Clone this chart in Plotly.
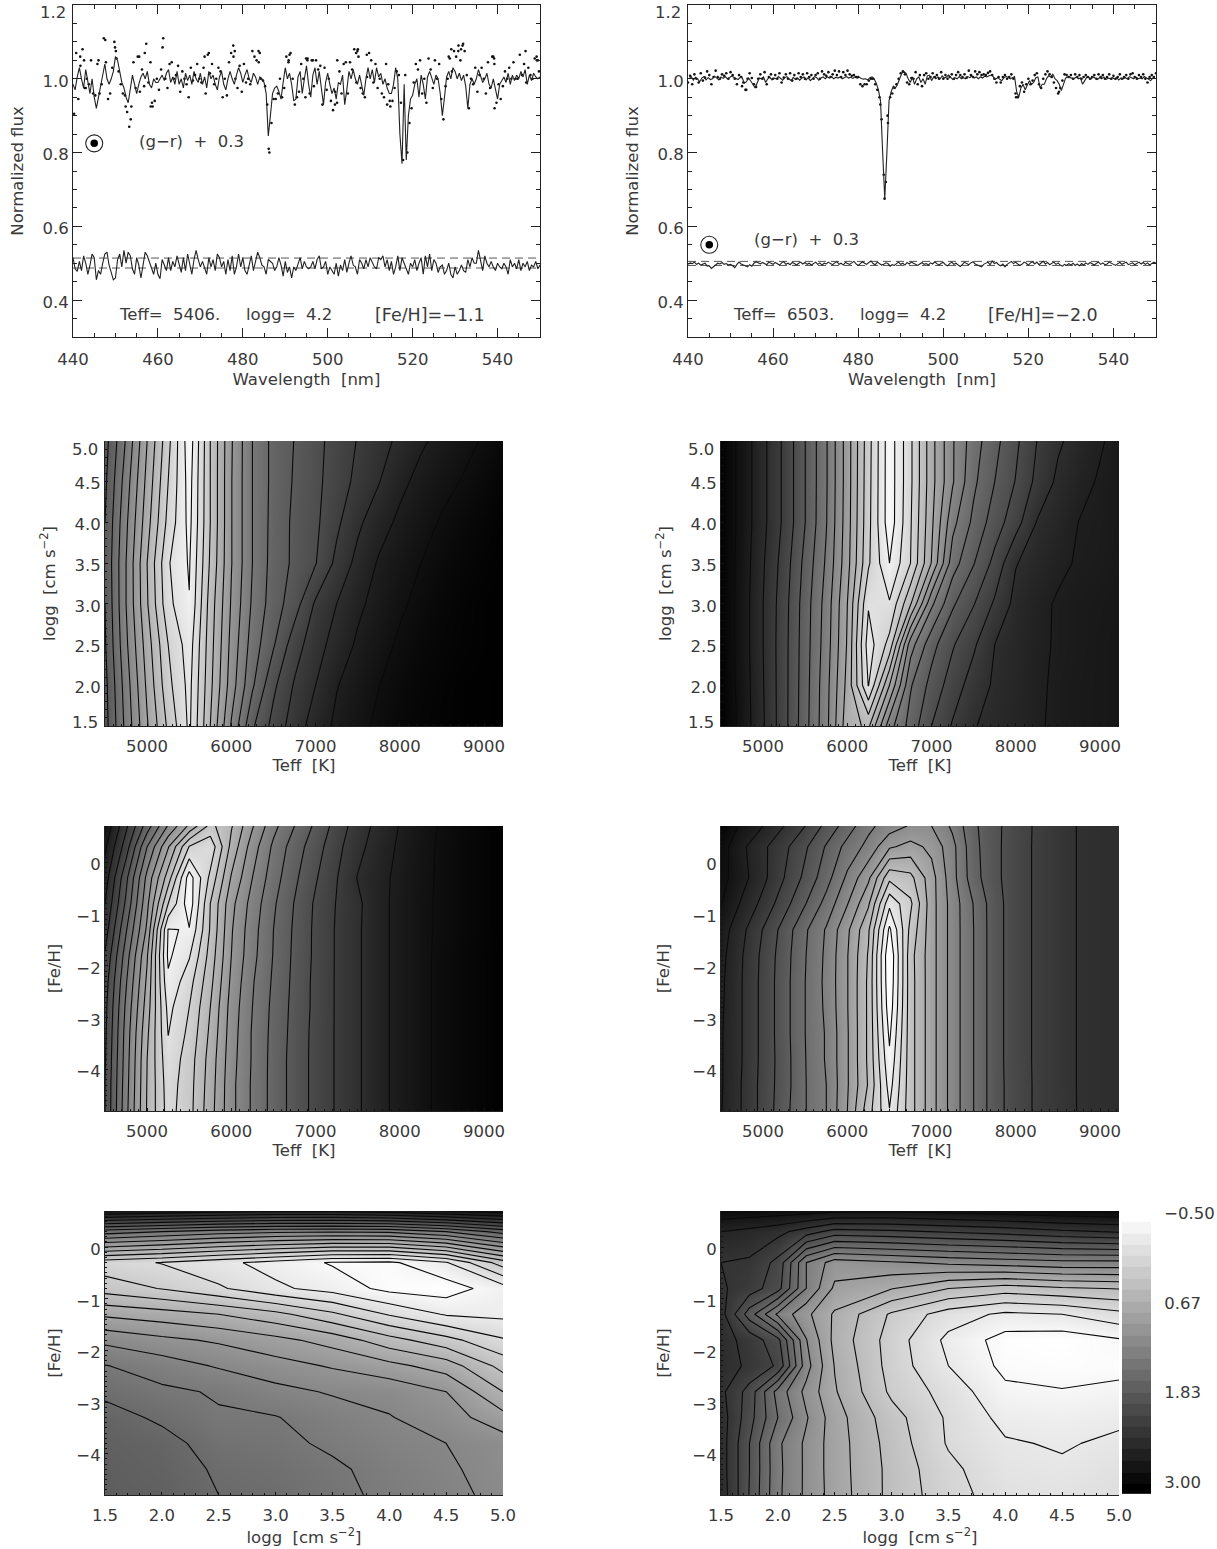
import plotly.graph_objects as go

W, H = 1217, 1549
FONT = "DejaVu Sans"
FS = 16.5
TITLE_FS = 16.5
INK = "#3a3a3a"
NB = "\u00a0\u00a0"

# ---------- spectra data (flux x 1000) ----------
wave_start = 440.0
wave_step = 0.5

model_a = [
985,970,1005,1030,1000,975,1025,990,960,1000,
950,920,950,980,1000,1040,1000,985,1000,1020,
1060,1050,1020,990,975,950,935,980,1010,985,
960,985,1005,1015,1000,1020,985,975,1000,990,
990,1000,1010,995,1015,1025,990,1005,985,1020,
985,1000,975,1015,995,1010,985,1020,1000,990,
1015,985,1005,975,1020,1000,1010,985,970,1005,
1020,985,970,1000,1020,1000,985,1010,1030,1015,
990,1010,1025,1000,990,1015,1005,985,1005,1000,
990,960,845,900,960,975,980,965,945,990,
1030,1000,1015,985,940,945,1005,1020,960,1000,
1035,985,950,1010,1030,985,1020,975,930,990,
1015,985,960,975,945,990,985,1010,930,970,
1020,1000,1025,1000,985,1010,980,955,1000,1030,
1000,1025,990,1030,1005,1015,985,1000,975,960,
960,985,1030,1000,850,770,985,780,900,945,
955,985,1000,950,1010,985,945,1005,1020,1000,
985,1010,1000,960,900,950,1005,1020,1000,1030,
1020,1000,1015,995,1010,980,920,985,1000,985,
1000,1025,1005,990,1000,1015,985,975,1000,970,
945,985,995,1005,990,1015,985,1010,995,1010,
1000,1020,1005,1025,985,1010,995,1015,1005,1000,1005]

obs_a = [
905,1070,945,1035,1080,975,1000,985,1050,960,
955,1040,960,985,1110,1045,945,960,1030,1100,
1055,1020,985,960,955,910,870,925,1045,975,
1060,965,1025,980,1095,990,1045,925,940,1000,
970,1025,1110,1000,975,1040,1045,1000,1010,1035,
965,1020,1000,985,950,1030,995,1010,1040,1000,
990,1030,960,1065,1015,1040,985,1000,1030,1020,
950,1000,955,1045,1070,1090,1000,975,1035,965,
1040,990,1000,985,1075,1060,1050,1045,1000,995,
980,930,800,880,945,945,960,1000,950,975,
1060,1045,1070,1000,930,950,965,1040,1000,950,
1055,960,1050,980,1050,1025,1035,930,1030,970,
1000,940,915,965,1050,1020,960,1040,1045,960,
1045,1025,1080,990,1060,975,960,950,1005,1070,
1050,990,1040,975,1000,960,950,1040,985,925,
940,975,1020,1010,935,780,1010,800,880,920,
990,1040,1025,1050,960,1000,935,1055,1025,975,
1050,1000,1040,945,890,980,1000,1055,1020,1075,
1060,1075,1050,1090,1075,1010,920,1000,985,1030,
965,1010,1030,1000,960,1045,975,1060,1040,935,
985,945,980,1020,1000,1030,1000,1045,1000,1000,
1065,1010,1040,990,1030,1010,1000,1055,1050,1020]

extra_a_wave = [441.7,442.6,443,446,447.6,449.9,450.1,452.4,453.6,455.6,456.9,458.3,458.6,461.1,471,472,478.1,477.8,483.7,484,486.1,491,490.8,494.9,495.2,496.5,501.7,502.2,507,506.7,507.1,509.2,514,514.6,529.1,530.8,531.4,531.9,528.5,539,539.2,539.3,546.6,549.2,549.5]
extra_a_flux = [1.06,1.05,.975,1.05,1.105,1.085,1.075,.925,.89,1.06,1.07,.925,.935,1.085,1.06,1.07,1.075,1.06,1.075,1.07,.81,1.065,1.05,1.055,1.05,1.05,.93,.935,1.075,1.07,1.08,1.065,.93,.94,1.08,1.09,1.08,1.095,1.06,1.06,1.055,.92,1.075,1.06,1.05]

resid_a = [
515,485,478,505,480,520,500,470,495,525,
515,455,480,470,500,525,530,495,475,455,
460,510,525,490,535,500,530,520,485,470,
515,495,460,490,530,520,505,485,470,500,
470,458,510,495,480,515,480,505,490,520,
495,475,515,480,525,500,470,510,535,510,
490,505,485,470,515,490,510,480,525,515,
490,505,470,510,480,520,470,490,525,490,
515,480,470,500,520,480,505,530,515,495,
490,470,510,505,500,480,490,515,495,465,
505,475,490,460,490,480,495,515,485,505,
490,485,490,505,485,510,520,485,490,505,
470,490,480,470,500,465,495,480,510,475,
500,520,495,490,470,510,500,485,510,490,
515,500,490,485,515,510,520,490,510,480,
505,470,490,520,480,515,500,490,470,500,
490,510,480,500,515,470,520,490,525,480,
510,500,475,490,495,470,480,500,470,460,
490,470,480,495,480,475,510,490,515,500,
500,535,510,480,520,500,490,505,490,480,
500,490,485,500,490,470,510,490,500,485,
510,480,500,490,505,480,495,490,505,485,495]

model_b = [
1000,1006,996,1004,1000,992,1002,1006,997,1003,
998,1000,1007,1002,997,1005,1001,1006,1000,1003,
1008,1004,1000,998,1004,1002,988,992,1002,995,
985,975,990,1002,1000,1005,990,1000,1004,997,
1002,1000,1006,1000,996,1003,1006,1000,995,1004,
998,1002,996,1002,1005,997,1003,995,1002,1006,
1003,996,1002,1005,1000,1005,1002,1006,1000,1004,
1002,1005,1000,1004,1006,1002,1004,1001,1005,1002,
1004,1001,999,1000,997,1003,1005,1000,988,970,
940,800,675,800,940,965,980,975,985,1000,
1015,1020,1015,1000,990,1005,985,1000,1005,990,
1000,985,1008,1010,995,1005,1000,1005,1000,1008,
1002,1005,1010,1004,998,1003,1000,1006,1000,1003,
1000,1006,1003,1008,1002,1005,1000,1005,1002,1007,
1005,1008,1010,1006,998,1003,1000,995,1003,1006,
1004,1000,1003,1006,965,950,975,985,970,985,
995,985,990,1003,1005,975,985,985,1000,1008,
1005,1012,1000,995,985,968,985,1002,1005,1003,
1003,1000,1005,1000,1002,985,995,1005,1003,1000,
1005,1002,998,1003,1000,1005,998,1002,1000,1003,
1000,1003,997,1002,1000,1003,1000,1006,1003,1000,
1005,1000,1002,1000,1006,1003,1000,995,1002,1006]

obs_b = [
990,1008,985,1012,1000,990,1015,995,1003,1020,
1010,985,1005,1022,1005,1000,1012,1008,1015,1000,
1018,1010,1000,985,1010,1005,990,970,1000,1015,
1002,985,978,1000,1012,1000,1018,985,1005,1012,
1000,1010,1000,1015,990,1003,1012,1000,1015,995,
1010,1000,1015,1005,1012,1000,1015,1005,1010,1000,
1010,1015,1000,1020,1012,1008,1018,1005,1012,1022,
1010,1020,1005,1018,1010,1022,1012,1008,1010,1005,
1005,985,980,985,985,995,1000,1000,985,970,
950,890,740,720,880,950,960,975,985,1000,
1015,1020,1012,990,985,1002,1000,1018,985,1010,
980,1010,1015,1000,1005,1015,1005,1010,1000,1018,
1000,1010,1000,1005,1012,1000,1010,1018,1010,1005,
1012,1003,1022,1010,1005,1020,1012,1018,1010,1012,
1010,1016,1020,1010,1000,990,1005,990,1005,1010,
1000,1005,1012,1000,960,950,980,990,965,985,
1000,985,995,1010,1015,985,975,1000,1012,1020,
1012,1005,990,975,960,975,995,1012,1010,1005,
1010,1000,1012,1005,1010,1000,1005,1010,1005,1000,
1005,1010,1000,1012,1005,1010,1000,1005,1012,1000,
1008,1000,1005,1012,1000,1005,1010,1000,1012,1015,
1005,1000,1010,1005,1012,1000,990,1005,1010,1005,1015]

extra_b_wave = [453.7,452.7,485.2,486.2,486.9,517.1,527.2]
extra_b_flux = [.97,.98,.93,.675,.9,.95,.965]

resid_b = [
497,501,499,503,497,500,495,498,500,492,
493,486,491,495,500,498,502,497,499,495,
497,493,488,497,503,498,496,493,490,496,
492,500,504,501,498,502,500,496,503,499,
497,502,499,495,501,504,497,500,496,502,
499,495,500,503,498,502,497,500,495,499,
503,497,501,495,500,498,503,499,496,501,
504,497,500,495,502,499,497,501,505,498,
494,499,504,500,497,502,506,499,496,503,
499,495,497,501,499,492,496,494,499,503,
497,500,495,502,498,503,500,496,494,498,
502,497,499,495,501,498,504,499,495,500,
502,496,493,499,503,497,500,495,491,497,
503,499,496,501,504,498,495,492,490,497,
500,503,496,506,499,502,496,493,498,490,
497,501,505,499,503,498,494,497,503,500,
495,501,504,498,503,496,500,505,498,502,
496,500,503,497,501,495,492,497,494,499,
495,500,494,498,493,499,495,501,497,502,
498,495,500,503,497,501,496,498,503,500,
497,494,499,502,497,500,503,496,499,501,
496,500,503,498,502,497,501,495,499,503,500]

band_a = [0.514, 0.487]
band_b = [0.505, 0.494]
sun_a = (445, 0.825)
sun_b = (445, 0.55)

# ---------- grids for the maps ----------
teff = [4500,4750,5000,5250,5500,5750,6000,6250,6500,6750,7000,7250,7500,7750,8000,8250,8500,8750,9000,9250]
logg_rows = [5.0,4.5,4.0,3.5,3.0,2.5,2.0,1.5]
feh_rows = [0.7,0.3,-0.3,-0.8,-1.3,-1.8,-2.3,-2.8,-3.3,-3.8,-4.3,-4.8]
logg_cols = [1.5,2.0,2.5,3.0,3.5,4.0,4.5,5.0]
logg_cols_fine = [1.5,1.75,2.0,2.25,2.5,3.0,3.5,4.0,4.5,5.0]

map_teff_logg_a = [
[5.6,8.1,11.0,13.7,16.6,13,10.1,8,6.7,5.97,5.3,4.6,3.95,3.35,2.8,2.15,1.7,1.3,.9,.5],
[5.8,8.5,11.3,14.0,16.4,13,10.05,8,6.7,5.9,5.25,4.5,3.75,3.05,2.25,1.7,1.3,.93,.6,.25],
[6.0,8.8,11.6,14.3,16.3,13,10.05,8,6.65,5.8,5.2,4.2,3.2,2.4,1.8,1.35,.9,.6,.35,.1],
[6.1,9.0,12.0,14.9,16.1,12.85,10.05,8,6.6,5.8,5.05,3.75,2.7,1.9,1.45,1.0,.65,.4,.2,.05],
[6.0,9.0,11.9,14.7,15.95,12.55,9.9,7.85,6.5,5.45,3.85,3.0,2.2,1.65,1.15,.75,.45,.25,.1,.03],
[5.9,8.8,11.5,14.0,15.5,12.4,9.7,7.55,6.1,4.45,3.4,2.6,1.85,1.35,.85,.55,.35,.2,.1,.03],
[5.7,8.5,11.2,13.7,15.3,12.25,9.5,7.15,5.2,3.9,3.0,2.05,1.55,1.02,.65,.4,.25,.1,.05,0],
[5.6,8.3,10.9,13.2,15.2,12.0,8.9,6.15,4.67,3.5,2.55,1.8,1.3,.8,.55,.35,.2,.1,.05,0]]

map_teff_logg_b = [
[-.8,.35,1.75,3.2,5,6.9,9.5,12.6,15.6,13.2,10.35,8.1,6.45,5.3,4.2,3,2.15,1.6,1.1,.65],
[-.8,.35,1.75,3.2,5,6.9,9.5,12.65,15.6,13.2,10.35,8.1,6.2,5,3.95,2.75,1.8,1.3,.9,.65],
[-.8,.35,1.75,3.2,5,6.95,9.55,12.7,15.6,13.1,10.2,7.3,5.75,4.5,3.4,1.95,1.5,.98,.85,.65],
[-.8,.4,1.9,3.45,5.3,7.15,9.65,12.85,15,13,9.95,6.45,5.05,3.7,2.05,1.6,1.2,.9,.8,.6],
[-.8,.45,2,3.6,5.5,7.4,10,13.9,13.9,11.1,7.2,5.15,4.05,2.85,1.7,1.25,.9,.75,.65,.55],
[-.8,.45,2,3.65,5.55,7.5,10.1,14.5,12.65,7.45,5.35,4.1,3.15,2,1.6,1.2,.9,.75,.6,.5],
[-.85,.4,1.95,3.65,5.6,7.65,10.3,14.05,10,6.1,4.65,3.5,2.55,1.85,1.5,1.15,.85,.7,.6,.5],
[-.95,.35,1.9,3.65,5.65,7.7,10.6,11.2,7.4,5.6,4,2.9,2.05,1.75,1.45,1.1,.85,.7,.6,.5]]

map_teff_feh_a = [
[1.2,3.8,6.5,9.1,11.2,13.3,12.1,10.1,8.3,7.0,5.8,4.6,3.5,2.7,1.95,1.4,.9,.6,.3,.05],
[1.8,4.5,8.0,10.9,14.05,14.7,11.7,9.5,7.8,6.5,5.45,4.3,3.3,2.5,1.85,1.3,.85,.55,.3,.05],
[2.5,5.75,9.3,12.5,16.5,13.75,10.9,9.0,7.45,6.2,5.1,4.05,2.95,2.3,1.75,1.25,.85,.55,.3,.05],
[3.0,6.2,9.75,14.0,16.6,13.0,10.3,8.6,7.15,5.95,4.85,3.95,3.2,2.3,1.7,1.2,.85,.55,.3,.05],
[3.5,6.9,10.2,16.05,15.95,12.9,10.1,8.4,7.0,5.85,4.8,3.9,3.15,2.3,1.7,1.2,.85,.55,.3,.05],
[4.1,7.5,10.9,16.2,15.1,12.6,10.0,8.3,6.95,5.8,4.8,3.9,3.15,2.3,1.7,1.2,.8,.5,.25,0],
[4.5,7.9,11.2,15.8,14.4,12.3,9.8,8.1,6.85,5.75,4.75,3.9,3.15,2.3,1.7,1.2,.8,.5,.25,0],
[4.7,8.2,11.5,15.3,14.0,12.0,9.6,8.0,6.75,5.7,4.75,3.9,3.15,2.3,1.7,1.2,.8,.5,.25,0],
[4.8,8.4,11.8,15.03,13.75,11.8,9.5,7.9,6.7,5.65,4.7,3.9,3.15,2.3,1.7,1.2,.8,.5,.25,0],
[4.9,8.5,12.0,14.7,13.5,11.6,9.4,7.9,6.65,5.6,4.7,3.9,3.15,2.3,1.7,1.2,.8,.5,.25,0],
[5.0,8.6,12.05,14.5,13.4,11.5,9.3,7.85,6.65,5.6,4.7,3.9,3.15,2.3,1.7,1.2,.8,.5,.25,0],
[5.0,8.7,12.1,14.4,13.35,11.4,9.3,7.85,6.65,5.6,4.7,3.9,3.15,2.3,1.7,1.2,.8,.5,.25,0]]

map_teff_feh_b = [
[-1.9,-.8,0,1,2,3.3,4.5,5.75,6.5,7.1,7,5.8,4.2,3.25,2.5,1.85,1.35,.95,.85,.8],
[-1.45,-.2,.8,1.75,2.85,4.1,5.35,6.3,7.85,8.35,7.75,6.3,4.3,3.25,2.45,1.85,1.35,.95,.85,.8],
[-1.35,-.35,.75,2,3.25,4.6,6.2,7.8,10.75,10.3,8.4,6.35,4.4,3.25,2.45,1.85,1.35,.95,.85,.8],
[-1.05,.15,1.3,2.6,3.95,5.35,6.95,8.85,12.75,11.2,8.4,6.55,4.95,3.4,2.45,1.85,1.35,.95,.85,.8],
[-.5,.75,2.05,3.4,4.85,6.1,7.8,9.85,14.2,10.7,8.4,6.55,5,3.4,2.45,1.85,1.35,.95,.85,.8],
[-.3,.95,2.25,3.55,4.95,6.2,7.95,10.1,14.9,10.35,8.4,6.55,5,3.4,2.45,1.85,1.35,.95,.85,.8],
[-.2,1,2.3,3.6,5,6.25,7.95,10.2,14.8,10.4,8.4,6.55,5,3.4,2.45,1.85,1.35,.95,.85,.8],
[-.15,1,2.3,3.6,5,6.2,7.95,10.2,14.6,10.4,8.4,6.55,5,3.4,2.45,1.85,1.35,.95,.85,.8],
[-.1,1,2.3,3.6,5,6.1,7.9,10.2,14.2,10.4,8.4,6.55,5,3.4,2.45,1.85,1.35,.95,.85,.8],
[-.1,1,2.3,3.55,4.97,6.1,7.9,10.2,13.8,10.4,8.4,6.55,5,3.4,2.45,1.85,1.35,.95,.85,.8],
[-.1,1.05,2.35,3.55,4.95,6,7.9,10.1,13.4,10.4,8.4,6.55,5,3.4,2.5,1.85,1.35,.95,.85,.8],
[-.05,1.05,2.35,3.65,4.95,6,8,10.6,12.95,10.4,8.4,6.55,5,3.4,2.5,1.85,1.4,.95,.85,.8]]

map_logg_feh_a = [
[2,2.3,2.6,2.8,2.8,2.5,2,1.5],
[8.5,9,9.5,9.8,9.9,9.8,9,7.6],
[15.6,16.05,16.7,17.4,18.1,18.2,17.1,14.5],
[14.45,15.05,15.85,16.8,17.4,18.3,18.5,17.45],
[12.2,12.55,13,13.7,14.8,16.1,17.1,17.25],
[10.25,10.75,11.15,11.7,12.4,13.6,14.65,15.9],
[8.95,9.5,10.1,10.6,11.1,11.7,12.45,14.35],
[8.25,8.8,9.1,9.7,10.1,10.3,11,13],
[7.55,8.2,8.9,8.95,9.5,9.95,10.5,11.65],
[7.3,7.6,8.5,8.7,9.2,9.65,10,10.5],
[7.15,7.45,8.15,8.4,8.8,9.4,9.85,10.4],
[7.1,7.3,8.0,8.2,8.7,9.25,9.7,10.3]]

map_logg_feh_b = [
[.3,.4,.5,.6,.8,.9,.7,.5,.3,.2],
[2,2.3,2.7,3.5,4.4,4.2,3.9,3.6,3.2,2.9],
[3,3.15,4.3,8,9.5,9.15,8.8,8.55,8.3,8.3],
[2.85,3.5,4.6,8,10.2,10.95,12,12.5,12.15,11.95],
[2.6,5.5,8.2,9.75,11.15,13.15,14.5,15.2,15,14.3],
[2.6,3.35,4.7,8.95,11.3,13.45,15.25,16.4,16.55,16.1],
[2.5,3.2,4.15,8.6,11.05,13.4,15,16.25,16.35,16.3],
[2.75,4.4,7.4,9.3,10.9,13.2,14.4,15.8,15.95,15.75],
[2.5,4.6,7,8.9,10.55,12.6,14.15,15.3,15.4,15.2],
[2.5,5,7.8,9.2,10.5,12.4,14.1,14.9,15.1,14.8],
[2.5,5,7.75,9.2,10.5,12.3,13.75,14.7,14.85,14.5],
[2.4,5.05,7.8,9.2,10.45,12.3,13.6,14.5,14.6,14.3]]

bar_values = [-0.31,-0.16,-0.01,0.13,0.28,0.43,0.58,0.73,0.87,1.02,1.17,1.32,1.47,1.61,1.76,1.91,2.06,2.21,2.35,2.50,2.65,2.80,2.95,3.09]
bar_ticks = [-0.5,0.67,1.83,3.0]
bar_labels = ["\u22120.50","0.67","1.83","3.00"]

wl_ticks = [440,460,480,500,520,540]
flux_ticks = [0.4,0.6,0.8,1.0]
teff_ticks = [5000,6000,7000,8000,9000]
logg_ticks = [2.0,2.5,3.0,3.5,4.0,4.5]
logg_x_ticks = [1.5,2.0,2.5,3.0,3.5,4.0,4.5,5.0]
feh_ticks = [0,-1,-2,-3,-4]

GRAY = [[0,"#000000"],[1,"#ffffff"]]
fig = go.Figure()
annots = []

def domx(a, b): return [a / W, b / W]
def domy(top, bottom): return [1 - bottom / H, 1 - top / H]

def note(text, xpx, ypx, anchor="left", size=FS):
    annots.append(dict(text=text, x=xpx / W, y=1 - ypx / H, xref="paper", yref="paper",
                       showarrow=False, xanchor=anchor, yanchor="middle",
                       font=dict(family=FONT, size=size, color=INK)))

font = dict(family=FONT, size=FS, color=INK)
tfont = dict(family=FONT, size=TITLE_FS, color=INK)
lay = {}

def spectrum_panel(n, box, model, model_wave, obs, obs_wave, ex_w, ex_f, resid, band, sun, texts, gr_px, stand):
    xa, ya = f"x{n}", f"y{n}"
    for b in band:
        fig.add_trace(go.Scatter(x=[440, 550], y=[b, b], mode="lines", xaxis=xa, yaxis=ya,
                                 line=dict(color="#555555", width=1, dash="8px,5px"), showlegend=False))
    fig.add_trace(go.Scatter(x=obs_wave, y=[v / 1000 for v in obs], mode="markers", xaxis=xa, yaxis=ya,
                             marker=dict(color="#111111", size=2.6), showlegend=False))
    fig.add_trace(go.Scatter(x=ex_w, y=ex_f, mode="markers", xaxis=xa, yaxis=ya,
                             marker=dict(color="#111111", size=2.6), showlegend=False))
    fig.add_trace(go.Scatter(x=model_wave, y=[v / 1000 for v in model], mode="lines", xaxis=xa, yaxis=ya,
                             line=dict(color="#222222", width=1.1), showlegend=False))
    fig.add_trace(go.Scatter(x=[wave_start + wave_step * i for i in range(len(resid))], y=[v / 1000 for v in resid],
                             mode="lines", xaxis=xa, yaxis=ya, line=dict(color="#222222", width=1.1), showlegend=False))
    fig.add_trace(go.Scatter(x=[sun[0]], y=[sun[1]], mode="markers", xaxis=xa, yaxis=ya,
                             marker=dict(color="rgba(0,0,0,0)", size=17, line=dict(color="#222222", width=1.1)), showlegend=False))
    fig.add_trace(go.Scatter(x=[sun[0]], y=[sun[1]], mode="markers", xaxis=xa, yaxis=ya,
                             marker=dict(color="#000000", size=7.5), showlegend=False))
    lay[f"xaxis{n}"] = dict(domain=domx(box[0], box[1]), range=[440, 550], anchor=ya, tickmode="array", tickvals=wl_ticks,
                            ticks="inside", ticklen=9, tickcolor="#222222", showline=True, linecolor="#222222", linewidth=1,
                            mirror="ticks", showgrid=False, zeroline=False, tickfont=font, ticklabelstandoff=7,
                            minor=dict(ticks="inside", ticklen=4, dtick=5, tickcolor="#222222", showgrid=False),
                            title=dict(text=f"Wavelength{NB}[nm]", font=tfont, standoff=5))
    lay[f"yaxis{n}"] = dict(domain=domy(box[2], box[3]), range=[0.3, 1.2], anchor=xa, tickmode="array", tickvals=flux_ticks,
                            ticktext=["0.4", "0.6", "0.8", "1.0"], ticklabelshift=2,
                            ticks="inside", ticklen=9, tickcolor="#222222", showline=True, linecolor="#222222", linewidth=1,
                            mirror="ticks", showgrid=False, zeroline=False, tickfont=font,
                            minor=dict(ticks="inside", ticklen=4, dtick=0.05, tick0=0.3, tickcolor="#222222", showgrid=False),
                            title=dict(text="Normalized flux", font=tfont, standoff=stand))
    note("1.2", box[0] - 5, box[2] + 8, "right")
    for t, px, sz in texts:
        note(t, px, 315, size=sz)
    note(f"(g\u2212r){NB}+{NB}0.3", gr_px[0], gr_px[1], size=16.5)

def map_panel(n, box, xs, ys, z, zmin, zmax, xticks, yticks, xtitle, ytitle, xfmt, yfmt, xrange, yrange, xminor, yminor, ystand, ends=None):
    xa, ya = f"x{n}", f"y{n}"
    rz, ry = z[::-1], ys[::-1]
    fig.add_trace(go.Heatmap(x=xs, y=ry, z=rz, xaxis=xa, yaxis=ya, colorscale=GRAY, zmin=zmin, zmax=zmax,
                             zsmooth="best", showscale=False, hoverinfo="skip"))
    fig.add_trace(go.Contour(x=xs, y=ry, z=rz, xaxis=xa, yaxis=ya, showscale=False, hoverinfo="skip",
                             contours=dict(coloring="none", start=-3, end=20, size=1, showlabels=False),
                             line=dict(color="#0a0a0a", width=1.1, smoothing=0)))
    lay[f"xaxis{n}"] = dict(domain=domx(box[0], box[1]), range=xrange, anchor=ya, tickmode="array", tickvals=xticks,
                            ticktext=[xfmt(v) for v in xticks], ticks="inside", ticklen=3, tickcolor="#111111",
                            showline=True, linecolor="#222222", linewidth=1, showgrid=False, zeroline=False, tickfont=font,
                            ticklabelstandoff=5,
                            minor=dict(ticks="inside", ticklen=2, dtick=xminor, tickcolor="#111111", showgrid=False),
                            title=dict(text=xtitle, font=tfont, standoff=4))
    lay[f"yaxis{n}"] = dict(domain=domy(box[2], box[3]), range=yrange, anchor=xa, tickmode="array", tickvals=yticks,
                            ticktext=[yfmt(v) for v in yticks], ticks="inside", ticklen=3, tickcolor="#111111",
                            showline=True, linecolor="#222222", linewidth=1, showgrid=False, zeroline=False, tickfont=font,
                            ticklabelshift=2,
                            minor=dict(ticks="inside", ticklen=2, dtick=yminor, tickcolor="#111111", showgrid=False),
                            title=dict(text=ytitle, font=tfont, standoff=ystand))
    if ends:
        note(ends[0], box[0] - 5, box[2] + 8, "right")
        note(ends[1], box[0] - 5, box[3] - 4, "right")

wave_full = [wave_start + wave_step * i for i in range(221)]
wave_half = [wave_start + wave_step * (i + 0.5) for i in range(220)]

spectrum_panel(1, (73, 540, 5, 337), model_a, wave_full, obs_a, wave_half, extra_a_wave, extra_a_flux, resid_a, band_a, sun_a,
               [(f"Teff={NB}5406.", 117, 16.5), (f"logg={NB}4.2", 244, 16.5), ("[Fe/H]=\u22121.1", 373, 17.5)], (137, 142), 14)
spectrum_panel(2, (688, 1156, 5, 337), model_b, wave_half, obs_b, wave_full, extra_b_wave, extra_b_flux, resid_b, band_b, sun_b,
               [(f"Teff={NB}6503.", 731, 16.5), (f"logg={NB}4.2", 858, 16.5), ("[Fe/H]=\u22122.0", 986, 17.5)], (752, 240), 14)

ffmt = lambda v: f"{v:.1f}"
ifmt = lambda v: str(v)
fehfmt = lambda v: (f"\u2212{abs(v)}" if v < 0 else str(v))
LOGG_T = f"logg{NB}[cm s<sup>\u22122</sup>]"
TEFF_T = f"Teff{NB}[K]"

teff_range = [4500, 9225]
map_panel(3, (105, 503, 441, 726), teff, logg_rows, map_teff_logg_a, 0, 17, teff_ticks, logg_ticks, TEFF_T, LOGG_T, ifmt, ffmt, teff_range, [1.5, 5.0], 100, 0.1, 14, ("5.0", "1.5"))
map_panel(4, (721, 1119, 441, 726), teff, logg_rows, map_teff_logg_b, -1, 16, teff_ticks, logg_ticks, TEFF_T, LOGG_T, ifmt, ffmt, teff_range, [1.5, 5.0], 100, 0.1, 14, ("5.0", "1.5"))
map_panel(5, (105, 503, 826, 1111), teff, feh_rows, map_teff_feh_a, 0, 17, teff_ticks, feh_ticks, TEFF_T, "[Fe/H]", ifmt, fehfmt, teff_range, [-4.8, 0.7], 100, 0.1, 11)
map_panel(6, (721, 1119, 826, 1111), teff, feh_rows, map_teff_feh_b, -2.2, 14.5, teff_ticks, feh_ticks, TEFF_T, "[Fe/H]", ifmt, fehfmt, teff_range, [-4.8, 0.7], 100, 0.1, 18)
map_panel(7, (105, 503, 1211, 1495), logg_cols, feh_rows, map_logg_feh_a, 0.5, 18.5, logg_x_ticks, feh_ticks, LOGG_T, "[Fe/H]", ffmt, fehfmt, [1.5, 5.0], [-4.8, 0.7], 0.1, 0.1, 11)
map_panel(8, (721, 1119, 1211, 1495), logg_cols_fine, feh_rows, map_logg_feh_b, -0.4, 16.5, logg_x_ticks, feh_ticks, LOGG_T, "[Fe/H]", ffmt, fehfmt, [1.5, 5.0], [-4.8, 0.7], 0.1, 0.1, 18)

fig.add_trace(go.Heatmap(x=[0], y=bar_values, z=[[v] for v in bar_values], xaxis="x9", yaxis="y9",
                         colorscale=[[0, "#f5f5f5"], [1, "#000000"]], zmin=-0.31, zmax=3.09, showscale=False, hoverinfo="skip"))
lay["xaxis9"] = dict(domain=domx(1122, 1151), range=[-0.5, 0.5], anchor="y9", showticklabels=False, ticks="", showgrid=False, zeroline=False, showline=False)
lay["yaxis9"] = dict(domain=domy(1207.6, 1495), range=[3.17, -0.57], anchor="x9", side="right", tickmode="array", tickvals=bar_ticks,
                     ticktext=bar_labels, ticks="outside", ticklen=9, tickcolor="rgba(0,0,0,0)", tickfont=font,
                     showgrid=False, zeroline=False, showline=False)

fig.update_layout(width=W, height=H, margin=dict(l=0, r=0, t=0, b=0, autoexpand=False), autosize=False, paper_bgcolor="white",
                  plot_bgcolor="white", showlegend=False, annotations=annots, font=font, **lay)
fig.write_html("out.html", config={"displayModeBar": False},
               post_script="document.body.style.margin='0';document.body.style.overflow='hidden';")
